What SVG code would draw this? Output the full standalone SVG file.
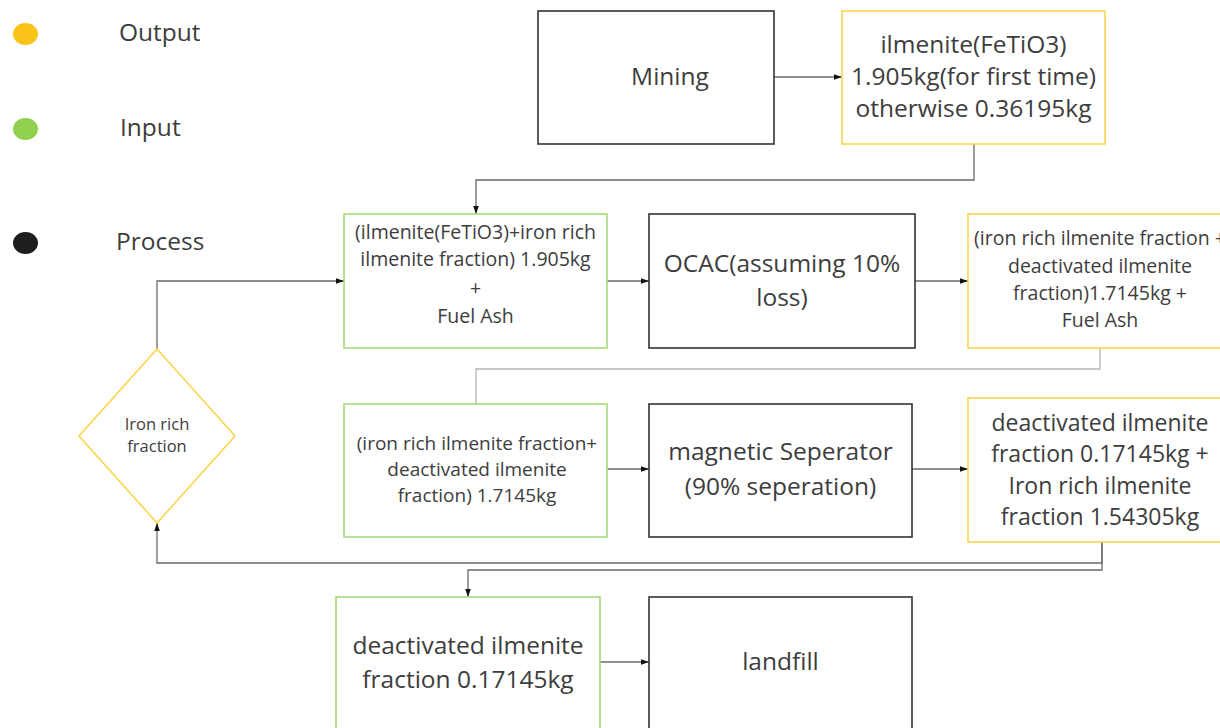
<svg xmlns="http://www.w3.org/2000/svg" width="1220" height="728" viewBox="0 0 1220 728">
<style>
text{font-family:"Open Sans","Noto Sans","Liberation Sans",sans-serif;fill:#3d3d3d;text-anchor:middle}
.lg{text-anchor:start;font-size:24.5px}
.big{font-size:24.5px}
.mid{font-size:23px}
.sm{font-size:19.5px}
.sm2{font-size:19px}
.dm{font-size:16.5px}
.out{fill:#fff;stroke:#FCD54C;stroke-width:1.6}
.inp{fill:#fff;stroke:#A6DB7C;stroke-width:1.6}
.proc{fill:#fff;stroke:#333;stroke-width:1.6}
.c{fill:none;stroke:#6a6a6a;stroke-width:1.3}
.cl{fill:none;stroke:#b4b4b4;stroke-width:1.3}
</style>
<defs>
<marker id="ah" viewBox="0 0 10 10" refX="10" refY="5" markerWidth="8" markerHeight="8" markerUnits="userSpaceOnUse" orient="auto">
<path d="M0,1.5 L10,5 L0,8.5 Z" fill="#111"/>
</marker>
</defs>
<rect width="1220" height="728" fill="#fff"/>
<g id="legend">
<ellipse cx="25.5" cy="34" rx="12.5" ry="11" fill="#FAC319"/>
<text class="lg" x="119" y="41">Output</text>
<ellipse cx="25.5" cy="129" rx="12.5" ry="11" fill="#8FD14F"/>
<text class="lg" x="120" y="136">Input</text>
<ellipse cx="25.5" cy="243" rx="12.5" ry="11" fill="#1E1E1E"/>
<text class="lg" x="116" y="250">Process</text>
</g>
<g id="connectors">
<path class="c" d="M774,77 H842" marker-end="url(#ah)"/>
<path class="c" d="M974,144 V180 H476 V214" marker-end="url(#ah)"/>
<path class="c" d="M157,349 V281 H344" marker-end="url(#ah)"/>
<path class="c" d="M607,281 H649" marker-end="url(#ah)"/>
<path class="c" d="M915,281 H968" marker-end="url(#ah)"/>
<path class="cl" d="M1100,348 V369 H476 V404"/>
<path class="c" d="M607,469 H649" marker-end="url(#ah)"/>
<path class="c" d="M912,469 H968" marker-end="url(#ah)"/>
<path class="c" d="M1102,542 V563 H157 V523" marker-end="url(#ah)"/>
<path class="c" d="M1102,542 V570 H468 V597" marker-end="url(#ah)"/>
<path class="c" d="M600,662 H649" marker-end="url(#ah)"/>
</g>
<g id="mining">
<rect class="proc" x="538" y="11" width="236" height="133"/>
<text class="big" x="670" y="85">Mining</text>
</g>
<g id="ilmenite-output">
<rect class="out" x="842" y="11" width="263" height="133"/>
<text class="big" x="973.5" y="53">ilmenite(FeTiO3)</text>
<text class="big" x="973.5" y="85">1.905kg(for first time)</text>
<text class="big" x="973.5" y="117">otherwise 0.36195kg</text>
</g>
<g id="ocac-input">
<rect class="inp" x="344" y="214" width="263" height="134"/>
<text class="sm" x="475.5" y="239">(ilmenite(FeTiO3)+iron rich</text>
<text class="sm" x="475.5" y="266">ilmenite fraction) 1.905kg</text>
<text class="sm" x="475.5" y="295">+</text>
<text class="sm" x="475.5" y="323">Fuel Ash</text>
</g>
<g id="ocac">
<rect class="proc" x="649" y="214" width="266" height="134"/>
<text class="big" x="782" y="272">OCAC(assuming 10%</text>
<text class="big" x="782" y="306">loss)</text>
</g>
<g id="ocac-output">
<rect class="out" x="968" y="214" width="264" height="134"/>
<text class="sm" x="1100" y="245">(iron rich ilmenite fraction +</text>
<text class="sm" x="1100" y="273">deactivated ilmenite</text>
<text class="sm" x="1100" y="300">fraction)1.7145kg +</text>
<text class="sm" x="1100" y="327">Fuel Ash</text>
</g>
<g id="iron-rich-fraction">
<polygon class="out" points="157,349 235,436 157,523 79,436"/>
<text class="dm" x="157" y="430">Iron rich</text>
<text class="dm" x="157" y="452">fraction</text>
</g>
<g id="separator-input">
<rect class="inp" x="344" y="404" width="263" height="133"/>
<text class="sm2" x="477" y="450">(iron rich ilmenite fraction+</text>
<text class="sm2" x="477" y="476">deactivated ilmenite</text>
<text class="sm2" x="477" y="502">fraction) 1.7145kg</text>
</g>
<g id="magnetic-separator">
<rect class="proc" x="649" y="404" width="263" height="133"/>
<text class="big" x="780.5" y="460">magnetic Seperator</text>
<text class="big" x="780.5" y="495">(90% seperation)</text>
</g>
<g id="separator-output">
<rect class="out" x="968" y="398" width="264" height="144"/>
<text class="mid" x="1100" y="431">deactivated ilmenite</text>
<text class="mid" x="1100" y="462">fraction 0.17145kg +</text>
<text class="mid" x="1100" y="494">Iron rich ilmenite</text>
<text class="mid" x="1100" y="525">fraction 1.54305kg</text>
</g>
<g id="landfill-input">
<rect class="inp" x="336" y="597" width="264" height="145"/>
<text class="big" x="468" y="654">deactivated ilmenite</text>
<text class="big" x="468" y="688">fraction 0.17145kg</text>
</g>
<g id="landfill">
<rect class="proc" x="649" y="597" width="263" height="145"/>
<text class="big" x="780.5" y="670">landfill</text>
</g>
</svg>
